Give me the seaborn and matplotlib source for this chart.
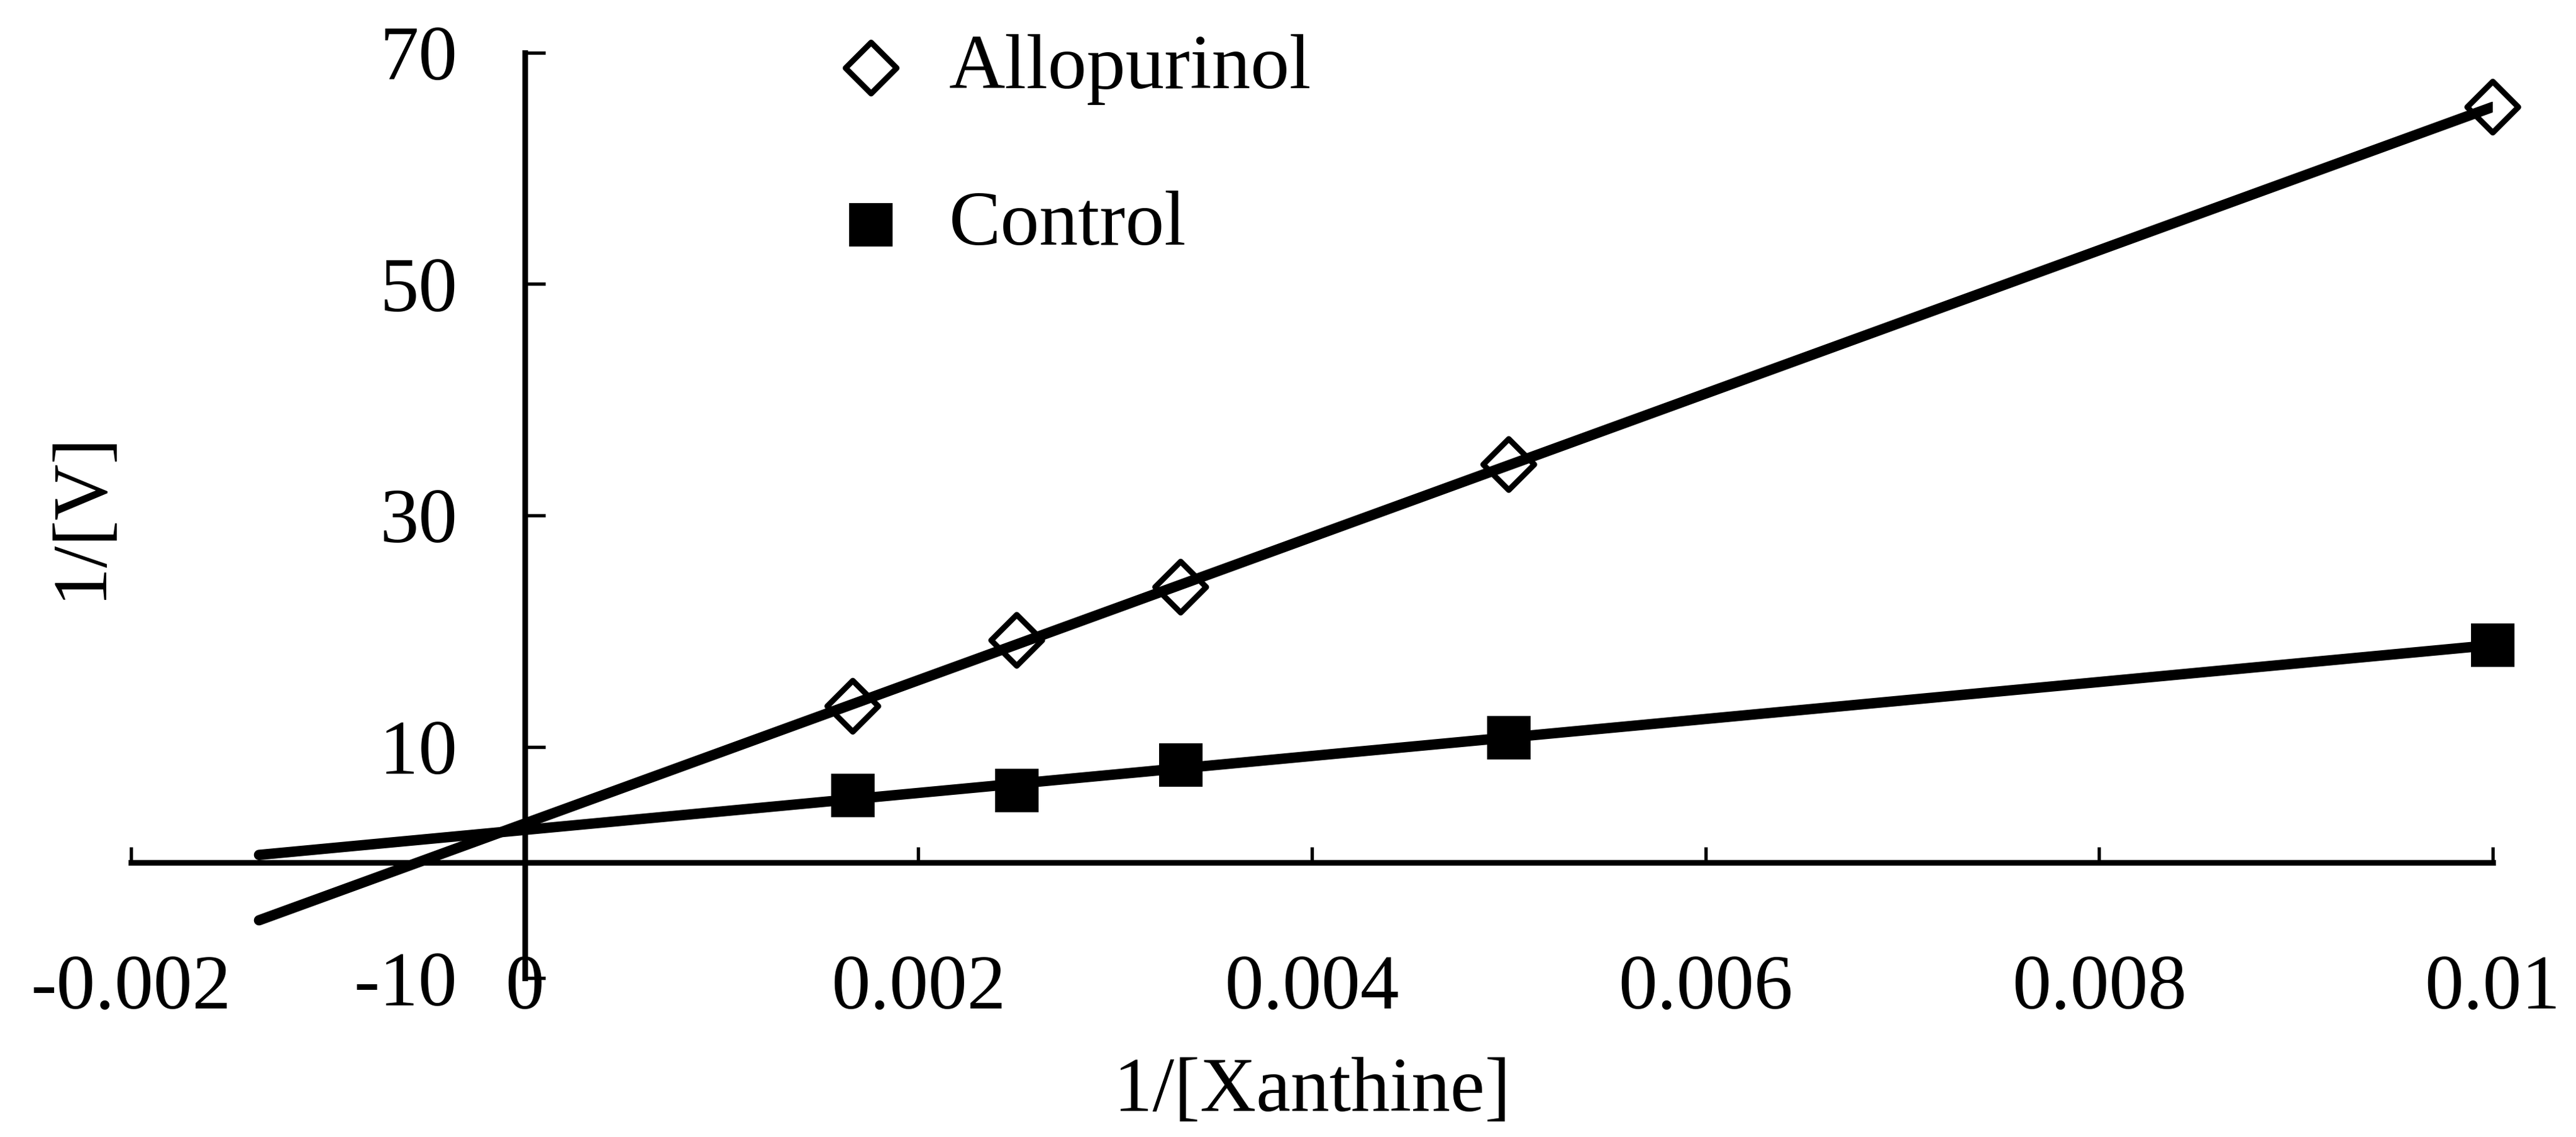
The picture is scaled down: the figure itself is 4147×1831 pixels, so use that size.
import matplotlib
matplotlib.use("Agg")
import matplotlib.pyplot as plt
import numpy as np
import pandas as pd
import seaborn as sns
from matplotlib.ticker import FuncFormatter

# Lineweaver-Burk data
inv_xanthine = [0.001667, 0.0025, 0.003333, 0.005, 0.01]
allopurinol_inv_v = [13.5, 19.2, 23.8, 34.4, 65.3]
control_inv_v = [5.8, 6.2, 8.4, 10.8, 18.8]
series_names = ["Allopurinol", "Control"]

# Excel style trend line, forecast backward past the y axis
trend_backcast = 0.00135
x_ticks = [-0.002, 0, 0.002, 0.004, 0.006, 0.008, 0.01]
y_ticks = [-10, 10, 30, 50, 70]

sns.set_theme(style="white")
plt.rcParams["font.family"] = ["Liberation Serif", "DejaVu Serif"]

DPI = 300
fig = plt.figure(figsize=(4147 / DPI, 1831 / DPI), dpi=DPI)
ax = fig.add_axes([0.0509, 0.1398, 0.9168, 0.8138])

df = pd.DataFrame({
    "x": inv_xanthine * 2,
    "y": allopurinol_inv_v + control_inv_v,
    "Series": [series_names[0]] * 5 + [series_names[1]] * 5,
})

styles = {
    "Allopurinol": dict(marker="D", s=195, facecolors="none",
                        edgecolors="black", linewidths=2.2),
    "Control": dict(marker="s", s=280, color="black", linewidths=0),
}

for name in series_names:
    sub = df[df["Series"] == name]
    sns.scatterplot(data=sub, x="x", y="y", ax=ax, label=name,
                    clip_on=False, zorder=3, **styles[name])

    # linear trend line through the points
    slope, intercept = np.polyfit(sub["x"], sub["y"], 1)
    fit_x = np.array([-trend_backcast, sub["x"].max()])
    sns.lineplot(x=fit_x, y=slope * fit_x + intercept, ax=ax, color="black",
                 linewidth=4.0, solid_capstyle="round", legend=False, zorder=4)

ax.set_xlim(-0.002, 0.01)
ax.set_ylim(-10, 70)
ax.set_xticks(x_ticks)
ax.set_yticks(y_ticks)
fmt = FuncFormatter(lambda v, pos: f"{v:g}")
ax.xaxis.set_major_formatter(fmt)
ax.yaxis.set_major_formatter(fmt)

# axes cross at the origin
ax.spines["left"].set_position(("data", 0))
ax.spines["bottom"].set_position(("data", 0))
ax.spines["top"].set_visible(False)
ax.spines["right"].set_visible(False)
for side in ["left", "bottom"]:
    ax.spines[side].set_linewidth(2.2)
    ax.spines[side].set_color("black")

ax.tick_params(axis="x", direction="in", length=6, width=1.3, pad=35.5,
               labelsize=30, colors="black", bottom=True)
ax.tick_params(axis="y", direction="in", length=8, width=1.3, pad=26,
               labelsize=30, colors="black", left=True)

ax.set_xlabel("1/[Xanthine]", fontsize=30, color="black")
ax.set_ylabel("1/[V]", fontsize=30, color="black")
ax.xaxis.set_label_coords(0.5, -0.085)
ax.yaxis.set_label_coords(-0.006, 0.5)
ax.grid(False)

leg = ax.legend(loc="upper left", bbox_to_anchor=(0.3231, 0.9700),
                bbox_transform=fig.transFigure, frameon=False, fontsize=30,
                borderpad=0, borderaxespad=0, handlelength=1.0,
                handletextpad=0.5, labelspacing=1.1, scatterpoints=1)
for t in leg.get_texts():
    t.set_color("black")

fig.savefig("out.png", dpi=DPI, facecolor="white")
